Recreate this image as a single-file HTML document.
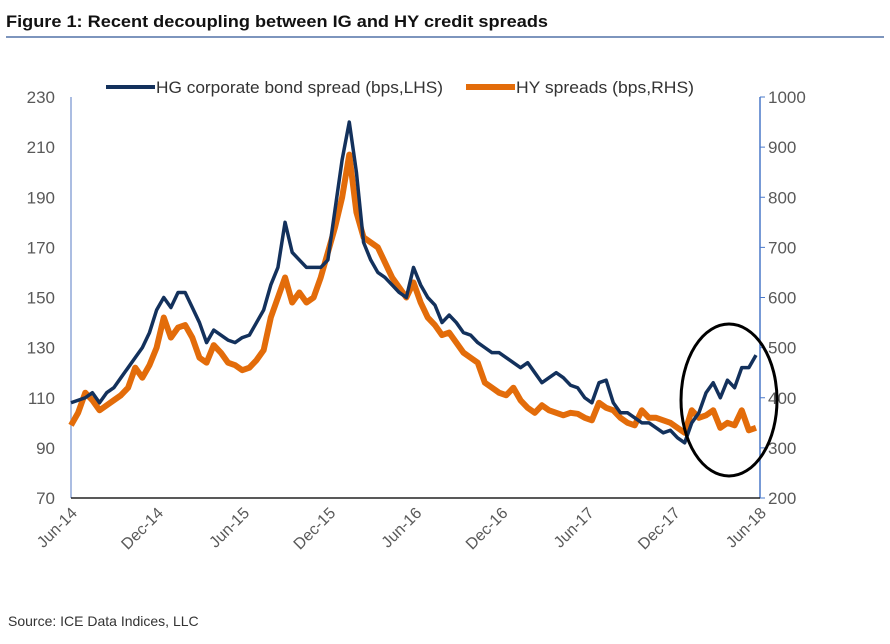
<!DOCTYPE html>
<html><head><meta charset="utf-8"><style>
body{margin:0;background:#fff;width:890px;height:639px;overflow:hidden;font-family:"Liberation Sans",sans-serif}
</style></head><body>
<svg width="890" height="639" xmlns="http://www.w3.org/2000/svg">
<text x="6" y="27" font-size="17" font-weight="bold" fill="#111" textLength="542" lengthAdjust="spacingAndGlyphs">Figure 1: Recent decoupling between IG and HY credit spreads</text>
<line x1="6" y1="37" x2="884" y2="37" stroke="#7d95bd" stroke-width="2"/>
<g>
<line x1="106" y1="87" x2="155" y2="87" stroke="#13315c" stroke-width="4"/>
<text x="156" y="93" font-size="17" fill="#333" textLength="287" lengthAdjust="spacingAndGlyphs">HG corporate bond spread (bps,LHS)</text>
<line x1="466" y1="87" x2="515" y2="87" stroke="#e36c0a" stroke-width="6"/>
<text x="516" y="93" font-size="17" fill="#333" textLength="178" lengthAdjust="spacingAndGlyphs">HY spreads (bps,RHS)</text>
</g>
<g id="axes"></g>
<g id="marks"></g>
<ellipse cx="729" cy="400" rx="48" ry="76" fill="none" stroke="#000" stroke-width="3"/>
<text x="8" y="626" font-size="14" fill="#333">Source: ICE Data Indices, LLC</text>
</svg>
<script>
const xLabels=["Jun-14","Dec-14","Jun-15","Dec-15","Jun-16","Dec-16","Jun-17","Dec-17","Jun-18"];
const leftTicks=[70,90,110,130,150,170,190,210,230];
const rightTicks=[200,300,400,500,600,700,800,900,1000];
const hgSpread=[108,109,110,112,108,112,114,118,122,126,130,136,145,150,146,152,152,146,140,132,137,135,133,132,134,135,140,145,155,162,180,168,165,162,162,162,165,185,205,220,200,172,165,160,158,155,152,150,162,155,150,147,140,143,140,136,135,132,130,128,128,126,124,122,124,120,116,118,120,118,115,114,110,108,116,117,108,104,104,102,100,100,98,96,97,94,92,100,104,112,116,110,117,114,122,122,127];
const hySpread=[345,370,410,395,375,385,395,405,420,460,440,465,500,560,520,540,545,520,480,470,505,490,470,465,455,460,475,495,560,600,640,590,610,590,600,640,690,740,800,885,770,720,710,700,670,640,620,600,630,590,560,545,525,530,510,490,480,470,430,420,410,405,420,395,380,370,385,375,370,365,370,368,360,355,390,380,375,360,350,345,375,360,360,355,350,340,330,375,360,365,375,340,350,345,375,335,340];
const X0=71,X1=760,XD=756,Y0=498,Y1=97;
const xs=i=>X0+(XD-X0)*i/(hySpread.length-1);
const xg=i=>X0+(XD-X0)*i/(hgSpread.length-1);
const yL=v=>Y0-(v-70)/160*(Y0-Y1);
const yR=v=>Y0-(v-200)/800*(Y0-Y1);
const NS="http://www.w3.org/2000/svg";
const axes=document.getElementById('axes'),marks=document.getElementById('marks');
function mk(tag,attrs,parent){const e=document.createElementNS(NS,tag);for(const k in attrs)e.setAttribute(k,attrs[k]);parent.appendChild(e);return e;}
let e;
e=mk('line',{x1:X0,y1:Y1,x2:X0,y2:Y0,stroke:'#8fa7d8','stroke-width':1.5},axes);


e=mk('line',{x1:X1,y1:Y1,x2:X1,y2:Y0,stroke:'#4a78c8','stroke-width':1.5},axes);


e=mk('line',{x1:X0,y1:Y0,x2:X1,y2:Y0,stroke:'#222','stroke-width':1.5},axes);


leftTicks.forEach(v=>{const t=mk('text',{x:X0-16,y:yL(v)+6,'font-size':17,fill:'#595959','text-anchor':'end'},axes);t.textContent=v;

});
rightTicks.forEach(v=>{mk('line',{x1:X1,y1:yR(v),x2:X1+5,y2:yR(v),stroke:'#4a78c8'},axes);const t=mk('text',{x:X1+8,y:yR(v)+6,'font-size':17,fill:'#595959'},axes);t.textContent=v;

});
xLabels.forEach((l,i)=>{const x=X0+(X1-X0)*i/8;const t=mk('text',{x:x+7,y:Y0+16,'font-size':16,fill:'#595959','text-anchor':'end',transform:`rotate(-45 ${x+7} ${Y0+16})`},axes);t.textContent=l;

});
const hy=mk('polyline',{points:hySpread.map((v,i)=>xs(i)+','+yR(v)).join(' '),fill:'none',stroke:'#e36c0a','stroke-width':6,'stroke-linejoin':'round'},marks);


const hg=mk('polyline',{points:hgSpread.map((v,i)=>xg(i)+','+yL(v)).join(' '),fill:'none',stroke:'#13315c','stroke-width':3.5,'stroke-linejoin':'round'},marks);


</script>
</body></html>
